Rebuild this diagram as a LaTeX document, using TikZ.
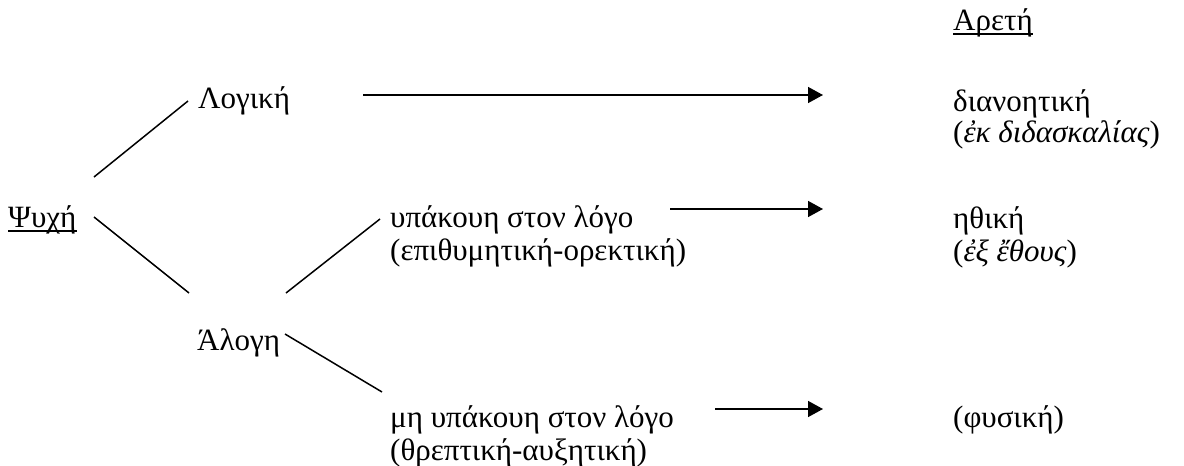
\documentclass[tikz,border=0pt]{standalone}
\usepackage{fontspec}
\setmainfont{Liberation Serif}
\usetikzlibrary{arrows.meta,calc}
\begin{document}
\begin{tikzpicture}[x=1pt,y=-1pt,
  txt/.style={inner sep=0pt, anchor=base west, font=\fontsize{31}{34}\selectfont},
  conn/.style={line width=1.5pt},
  arr/.style={line width=1.5pt, -{Triangle[length=15pt,width=16pt]}},
  uline/.style={line width=1.4pt}]
\useasboundingbox (0,0) rectangle (1184,466);
% texts
\node[txt] (areti) at (953,30) {Αρετή};
\node[txt] (psyche) at (8,227) {Ψυχή};
\node[txt] (logiki) at (198,108) {Λογική};
\node[txt] (alogi) at (197,350) {Άλογη};
\node[txt] (ypak) at (390,227) {υπάκουη στον λόγο};
\node[txt] (ypakb) at (390,260) {(επιθυμητική-ορεκτική)};
\node[txt] (myp) at (390,427) {μη υπάκουη στον λόγο};
\node[txt] (mypb) at (390,460) {(θρεπτική-αυξητική)};
\node[txt] (dian) at (953,111) {διανοητική};
\node[txt] (dianb) at (953,142) {(\textit{ἐκ διδασκαλίας})};
\node[txt] (ithi) at (953,228) {ηθική};
\node[txt] (ithib) at (953,261) {(\textit{ἐξ ἔθους})};
\node[txt] (fys) at (953,427) {(φυσική)};
% underlines
\draw[uline] ($(areti.base west)+(0,4)$) -- ($(areti.base east)+(0,4)$);
\draw[uline] ($(psyche.base west)+(0,4)$) -- ($(psyche.base east)+(0,4)$);
% line endpoints
\coordinate (p1) at (94,177);  \coordinate (l1) at (188,101);
\coordinate (p2) at (94,217);  \coordinate (a1) at (189,293);
\coordinate (a2) at (286,293); \coordinate (y1) at (380,219);
\coordinate (a3) at (285,334); \coordinate (m1) at (382,392);
\coordinate (la) at (363,95);  \coordinate (da) at (823,95);
\coordinate (ya) at (670,209); \coordinate (ia) at (823,209);
\coordinate (ma) at (715,409); \coordinate (fa) at (823,409);
\draw[conn] (p1) -- (l1);
\draw[conn] (p2) -- (a1);
\draw[conn] (a2) -- (y1);
\draw[conn] (a3) -- (m1);
\draw[arr] (la) -- (da);
\draw[arr] (ya) -- (ia);
\draw[arr] (ma) -- (fa);
\end{tikzpicture}
\end{document}
